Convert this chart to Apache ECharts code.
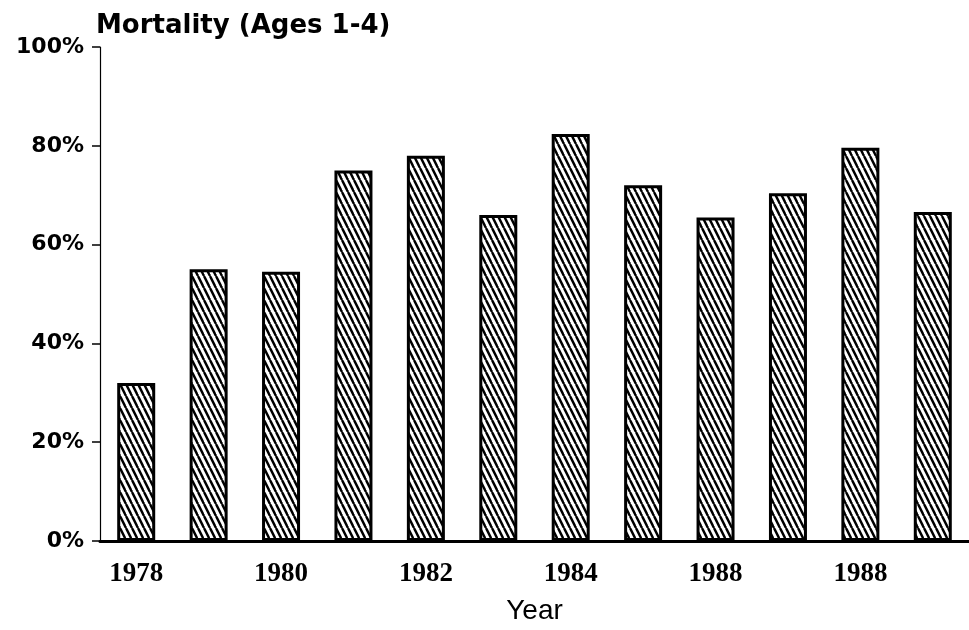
<!DOCTYPE html>
<html>
<head>
    <title>Mortality (Ages 1-4)</title>
    <meta charset="UTF-8">
    <script src="https://cdn.jsdelivr.net/npm/echarts@6/dist/echarts.min.js"></script>
    <style>
        html, body { margin: 0; padding: 0; background: #fff; }
        #mortality-chart { width: 969px; height: 630px; }
    </style>
</head>
<body>
<div id="mortality-chart"></div>

<script>
    // values
    var years = ['1978', '1979', '1980', '1981', '1982', '1983', '1984', '1985', '1986', '1987', '1988', '1989'];
    var mortality = [32, 55, 54.5, 75, 78, 66, 82.4, 72, 65.5, 70.4, 79.6, 66.6];
    // tick labels exactly as printed (every other year, "1988" twice)
    var tickLabels = ['1978', '', '1980', '', '1982', '', '1984', '', '1988', '', '1988', ''];

    // diagonal hatch fill, lines running top-left to bottom-right
    function makeHatch() {
        var c = document.createElement('canvas');
        c.width = 6;
        c.height = 12;
        var ctx = c.getContext('2d');
        ctx.fillStyle = '#fff';
        ctx.fillRect(0, 0, 6, 12);
        ctx.strokeStyle = '#000';
        ctx.lineWidth = 2.4;
        for (var k = -1; k <= 1; k++) {
            ctx.beginPath();
            ctx.moveTo(k * 6, 0);
            ctx.lineTo(k * 6 + 6, 12);
            ctx.stroke();
        }
        return c;
    }

    var option = {
        backgroundColor: '#fff',
        animation: false,
        title: {
            text: 'Mortality (Ages 1-4)',
            left: 96,
            top: 13,
            padding: 0,
            textStyle: {
                fontFamily: 'DejaVu Sans',
                fontWeight: 'bold',
                fontSize: 26,
                color: '#000'
            }
        },
        grid: {
            left: 100,
            right: 0,
            top: 47,
            bottom: 83
        },
        xAxis: {
            type: 'category',
            data: years,
            name: 'Year',
            nameLocation: 'middle',
            nameGap: 56,
            nameTextStyle: {
                fontFamily: 'Liberation Sans',
                fontSize: 28,
                color: '#000'
            },
            axisLine: { lineStyle: { color: '#000', width: 3 } },
            axisTick: {
                alignWithLabel: true,
                interval: 0,
                length: 7,
                lineStyle: { color: '#000', width: 1 }
            },
            axisLabel: {
                interval: 0,
                margin: 20,
                fontFamily: 'Liberation Serif',
                fontWeight: 'bold',
                fontSize: 27,
                color: '#000',
                formatter: function (value, idx) {
                    return tickLabels[idx];
                }
            }
        },
        yAxis: {
            type: 'value',
            min: 0,
            max: 100,
            interval: 20,
            axisLine: { show: true, lineStyle: { color: '#000', width: 1.2 } },
            axisTick: { show: true, length: 8, lineStyle: { color: '#000', width: 1.5 } },
            splitLine: { show: false },
            axisLabel: {
                margin: 16,
                fontFamily: 'DejaVu Sans',
                fontWeight: 'bold',
                fontSize: 22,
                color: '#000',
                formatter: '{value}%'
            }
        },
        series: [
            {
                name: 'Mortality',
                type: 'bar',
                data: mortality,
                barWidth: 38,
                itemStyle: {
                    color: { image: makeHatch(), repeat: 'repeat' },
                    borderColor: '#000',
                    borderWidth: 3
                }
            }
        ]
    };

    var myChart = echarts.init(document.getElementById('mortality-chart'));
    myChart.setOption(option);
</script>
</body>
</html>
